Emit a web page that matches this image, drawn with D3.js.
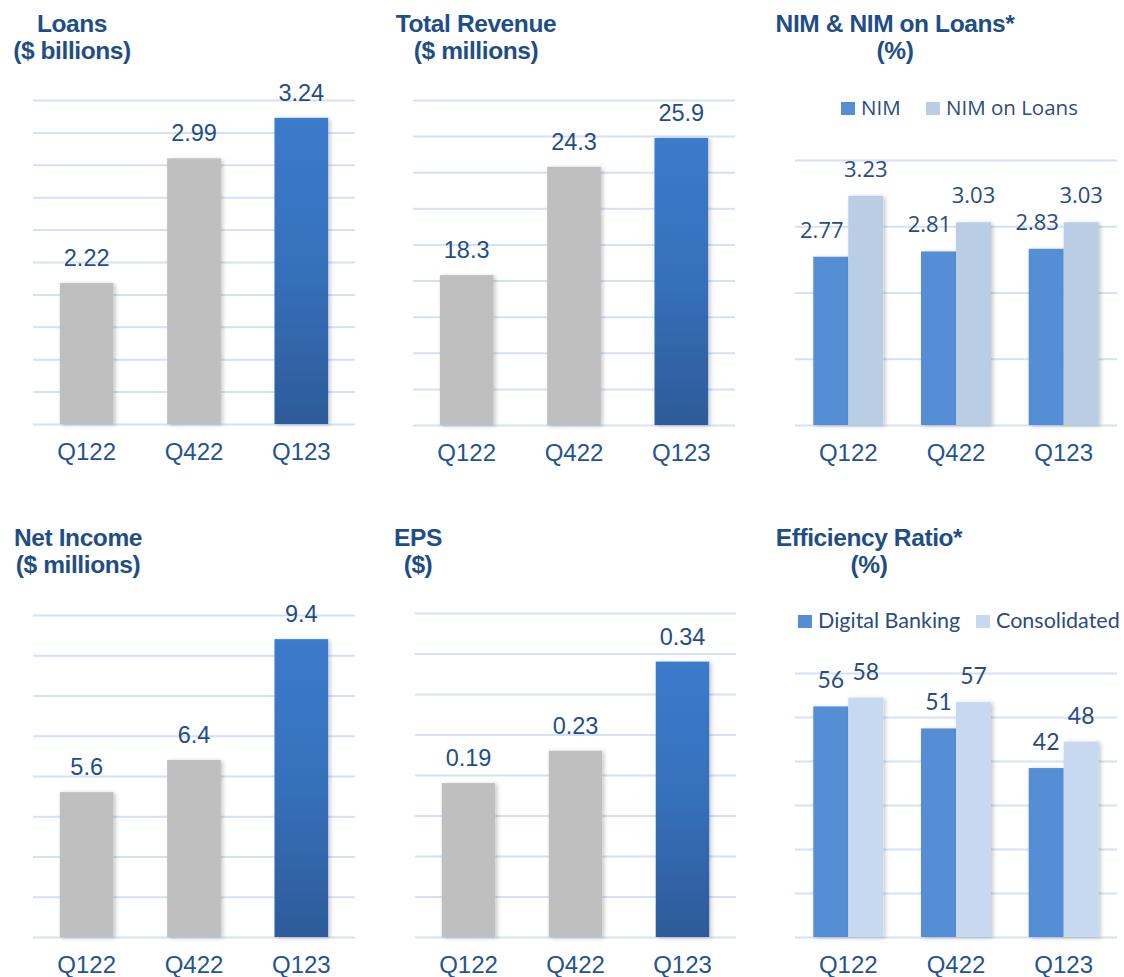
<!DOCTYPE html>
<html>
<head>
<meta charset="utf-8">
<title>Quarterly highlights</title>
<script src="https://cdnjs.cloudflare.com/ajax/libs/d3/7.8.5/d3.min.js"></script>
<style>
  body { margin: 0; background: #fff; }
  svg { display: block; }
  .title { font-family: "Liberation Sans", Arial, sans-serif; font-weight: bold; font-size: 24.5px; letter-spacing: -0.4px; fill: #1f4e87; }
  .xlab { font-family: "Liberation Sans", Arial, sans-serif; font-size: 24px; fill: #24538f; }
  .grid line { stroke: #d5e2f3; stroke-width: 2px; }
  .grid path { display: none; }
</style>
</head>
<body>
<svg id="chart" width="1124" height="977"></svg>
<script>
  const quarters = ["Q122", "Q422", "Q123"];
  const loans = [2.22, 2.99, 3.24];
  const revenue = [18.3, 24.3, 25.9];
  const nim = [2.77, 2.81, 2.83];
  const nimOnLoans = [3.23, 3.03, 3.03];
  const netIncome = [5.6, 6.4, 9.4];
  const eps = [0.19, 0.23, 0.34];
  const effDigital = [56, 51, 42];
  const effConsolidated = [58, 57, 48];

  // gridline values (axis does not always start at zero in the source)
  const loansTicks = d3.range(1.35, 3.36, 0.2);
  const revenueTicks = d3.range(10, 28.1, 2);
  const nimTicks = d3.range(1.5, 3.51, 0.5);
  const incomeTicks = d3.range(2, 10.1, 1);
  const epsTicks = d3.range(0, 0.401, 0.05);
  const effTicks = d3.range(3.6, 63.7, 10);

  const svg = d3.select('#chart');
  const defs = svg.append('defs');

  const grad = defs.append('linearGradient').attr('id', 'blueGrad')
    .attr('x1', 0).attr('y1', 0).attr('x2', 0).attr('y2', 1);
  grad.append('stop').attr('offset', '0%').attr('stop-color', '#3b7bcc');
  grad.append('stop').attr('offset', '50%').attr('stop-color', '#3670ba');
  grad.append('stop').attr('offset', '100%').attr('stop-color', '#2d5b99');

  defs.append('filter').attr('id', 'shadow')
    .attr('x', '-20%').attr('y', '-5%').attr('width', '140%').attr('height', '110%')
    .append('feDropShadow')
    .attr('dx', 2).attr('dy', 1).attr('stdDeviation', 2)
    .attr('flood-color', '#000').attr('flood-opacity', 0.22);

  function title(g, cx, y, lines) {
    g.append('text').attr('class', 'title')
      .attr('x', cx).attr('y', y).attr('text-anchor', 'middle').text(lines[0]);
    g.append('text').attr('class', 'title')
      .attr('x', cx).attr('y', y + 27).attr('text-anchor', 'middle').text(lines[1]);
  }

  function grid(x0, x1, y) {
    svg.append('g').attr('class', 'grid')
      .attr('transform', `translate(${x0},0)`)
      .call(d3.axisLeft(y.scale).tickValues(y.ticks).tickSize(-(x1 - x0)).tickFormat(''));
  }

  function xLabels(x, base) {
    svg.append('g').selectAll('text').data(quarters).join('text')
      .attr('class', 'xlab')
      .attr('x', d => x(d) + x.bandwidth() / 2)
      .attr('y', base + 36)
      .attr('text-anchor', 'middle')
      .text(d => d);
  }

  // single-series panel: grey bars, last one blue
  function singlePanel(cfg) {
    const x = d3.scaleBand().domain(quarters).range([cfg.x0, cfg.x1]).paddingInner(0.5).paddingOuter(0.25);
    const y = d3.scaleLinear().domain(cfg.domain).range([cfg.base, cfg.top]);
    grid(cfg.x0, cfg.x1, { scale: y, ticks: cfg.ticks });
    title(svg, cfg.titleX, cfg.titleY, cfg.title);

    const rows = quarters.map((q, i) => ({ q, v: cfg.values[i], i }));
    svg.append('g').selectAll('rect').data(rows).join('rect')
      .attr('x', d => x(d.q))
      .attr('y', d => y(d.v))
      .attr('width', x.bandwidth())
      .attr('height', d => cfg.base - y(d.v))
      .attr('fill', d => d.i === quarters.length - 1 ? 'url(#blueGrad)' : '#bfbfbf')
      .attr('filter', 'url(#shadow)');

    svg.append('g').selectAll('text').data(rows).join('text')
      .attr('x', d => x(d.q) + x.bandwidth() / 2)
      .attr('y', d => y(d.v) - 17)
      .attr('text-anchor', 'middle')
      .style('font-family', '"Liberation Sans", Arial, sans-serif')
      .style('font-size', '23.5px')
      .style('fill', '#1f4e87')
      .text(d => cfg.fmt(d.v));

    xLabels(x, cfg.base);
  }

  // two-series panel with legend
  function groupPanel(cfg) {
    const x = d3.scaleBand().domain(quarters).range([cfg.x0, cfg.x1]).paddingInner(0.35).paddingOuter(0.17);
    const keys = cfg.series.map(s => s.name);
    const x1 = d3.scaleBand().domain(keys).range([0, x.bandwidth()]);
    const y = d3.scaleLinear().domain(cfg.domain).range([cfg.base, cfg.top]);
    grid(cfg.x0, cfg.x1, { scale: y, ticks: cfg.ticks });
    title(svg, cfg.titleX, cfg.titleY, cfg.title);

    const rows = [];
    quarters.forEach((q, i) => cfg.series.forEach(s => rows.push({ q, k: s.name, v: s.values[i], c: s.color, dx: s.labelDx })));

    svg.append('g').selectAll('rect').data(rows).join('rect')
      .attr('x', d => x(d.q) + x1(d.k))
      .attr('y', d => y(d.v))
      .attr('width', x1.bandwidth())
      .attr('height', d => cfg.base - y(d.v))
      .attr('fill', d => d.c)
      .attr('filter', 'url(#shadow)');

    svg.append('g').selectAll('text').data(rows).join('text')
      .attr('x', d => x(d.q) + x1(d.k) + x1.bandwidth() / 2 + d.dx)
      .attr('y', d => y(d.v) - cfg.labelGap)
      .attr('text-anchor', 'middle')
      .style('font-family', cfg.font)
      .style('font-size', cfg.labelSize)
      .style('fill', '#2b4c7e')
      .text(d => cfg.fmt(d.v));

    const leg = svg.append('g');
    cfg.series.forEach((s, i) => {
      leg.append('rect')
        .attr('x', cfg.legendX[i]).attr('y', cfg.legendY - 13)
        .attr('width', 14).attr('height', 13).attr('fill', s.color);
      leg.append('text')
        .attr('x', cfg.legendX[i] + 20).attr('y', cfg.legendY)
        .style('font-family', cfg.font)
        .style('font-size', cfg.legendSize)
        .style('fill', '#2b4c7e')
        .text(s.name);
    });

    xLabels(x, cfg.base);
  }

  singlePanel({
    title: ['Loans', '($ billions)'], titleX: 72, titleY: 32,
    values: loans, domain: [1.35, 3.35], ticks: loansTicks,
    x0: 33, x1: 355, top: 100, base: 424, fmt: d3.format('.2f')
  });

  singlePanel({
    title: ['Total Revenue', '($ millions)'], titleX: 476, titleY: 32,
    values: revenue, domain: [10, 28], ticks: revenueTicks,
    x0: 413, x1: 735, top: 100, base: 425, fmt: d3.format('.1f')
  });

  groupPanel({
    title: ['NIM & NIM on Loans*', '(%)'], titleX: 895, titleY: 32,
    series: [
      { name: 'NIM', values: nim, color: '#558ed5', labelDx: -9 },
      { name: 'NIM on Loans', values: nimOnLoans, color: '#b9cde5', labelDx: 0 }
    ],
    domain: [1.5, 3.5], ticks: nimTicks,
    x0: 795, x1: 1117, top: 160, base: 425, fmt: d3.format('.2f'),
    font: '"Open Sans", sans-serif', labelSize: '22px', labelGap: 19,
    legendX: [841, 926], legendY: 115, legendSize: '20.5px'
  });

  singlePanel({
    title: ['Net Income', '($ millions)'], titleX: 78, titleY: 546,
    values: netIncome, domain: [2, 10], ticks: incomeTicks,
    x0: 33, x1: 355, top: 615, base: 937, fmt: d3.format('.1f')
  });

  singlePanel({
    title: ['EPS', '($)'], titleX: 418, titleY: 546,
    values: eps, domain: [0, 0.4], ticks: epsTicks,
    x0: 415, x1: 736, top: 613, base: 937, fmt: d3.format('.2f')
  });

  groupPanel({
    title: ['Efficiency Ratio*', '(%)'], titleX: 869, titleY: 546,
    series: [
      { name: 'Digital Banking', values: effDigital, color: '#558ed5', labelDx: 0 },
      { name: 'Consolidated', values: effConsolidated, color: '#c6d9f1', labelDx: 0 }
    ],
    domain: [3.6, 63.6], ticks: effTicks,
    x0: 795, x1: 1117, top: 673, base: 937, fmt: d3.format('d'),
    font: 'Lato, "Open Sans", sans-serif', labelSize: '23px', labelGap: 18,
    legendX: [798, 976], legendY: 628, legendSize: '21.5px'
  });
</script>
</body>
</html>
